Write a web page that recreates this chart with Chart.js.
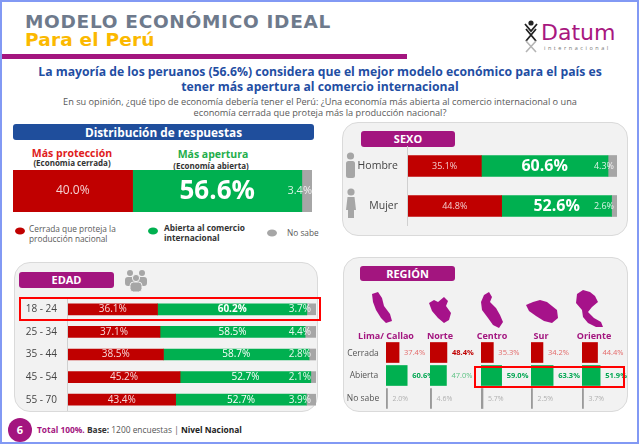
<!DOCTYPE html>
<html><head><meta charset="utf-8">
<script src="https://cdn.jsdelivr.net/npm/chart.js@4.4.1/dist/chart.umd.min.js"></script>
<style>
html,body{margin:0;padding:0;background:#fff;}
body{width:640px;height:444px;position:relative;overflow:hidden;font-family:"Open Sans",sans-serif;}
.a{position:absolute;}
.frame{left:0;top:0;width:639px;height:444px;box-sizing:border-box;border:2px solid #8299f4;pointer-events:none;}
.panel{background:#f2f2f2;border:1px solid #dadada;border-radius:16px;box-sizing:border-box;}
.hdr{color:#fff;font-weight:bold;text-align:center;border-radius:3px;}
.purple{background:#a3157f;}
canvas{position:absolute;}
.rn{color:#a3157f;font-weight:bold;font-size:9px;width:70px;text-align:center;line-height:12px;white-space:nowrap;}
.rl{color:#555;font-size:8.5px;width:40px;text-align:center;line-height:12px;}
.ctr{text-align:center;white-space:nowrap;}
</style>
</head><body>
<!-- header -->
<div class="a" style="left:25px;top:11px;font-family:'DejaVu Sans';font-weight:bold;font-size:18.5px;letter-spacing:0.7px;color:#6e7a8c;line-height:22px;white-space:nowrap;">MODELO ECONÓMICO IDEAL</div>
<div class="a" style="left:25px;top:29px;font-family:'DejaVu Sans';font-weight:bold;font-size:18.5px;letter-spacing:0.2px;color:#fbb900;line-height:22px;white-space:nowrap;">Para el Perú</div>
<div class="a" style="left:0;top:54px;width:407px;height:5px;background:#a3157f;"></div>
<svg class="a" style="left:520px;top:18px" width="20" height="40" viewBox="520 18 20 40">
  <circle cx="531" cy="23" r="2.6" fill="#222"/>
  <path d="M525 24 L531 31 L537 24" stroke="#222" stroke-width="1.8" fill="none"/>
  <path d="M526 29 L536 41 M536 29 L526 41" stroke="#222" stroke-width="1.8" fill="none"/>
  <path d="M526 41 L536 52 M536 41 L526 52" stroke="#b5b5b5" stroke-width="1.6" fill="none"/>
</svg>
<div class="a" style="left:541px;top:19px;font-family:'DejaVu Sans';font-size:22px;color:#a8177f;line-height:28px;">Datum</div>
<div class="a" style="left:544px;top:44px;font-size:5.5px;letter-spacing:2.55px;color:#777;line-height:8px;">internacional</div>

<div class="a" style="left:0;top:65px;width:640px;text-align:center;color:#1f4ea3;font-weight:bold;font-size:12.2px;line-height:14.5px;">La mayoría de los peruanos (56.6%) considera que el mejor modelo económico para el país es<br>tener más apertura al comercio internacional</div>
<div class="a" style="left:0;top:96px;width:640px;text-align:center;color:#595959;font-size:9.2px;line-height:11px;">En su opinión, ¿qué tipo de economía debería tener el Perú: ¿Una economía más abierta al comercio internacional o una<br>economía cerrada que proteja más la producción nacional?</div>

<!-- distribution -->
<div class="a hdr" style="left:13px;top:124px;width:301px;height:16px;line-height:16px;font-size:11.8px;background:#1f4e9c;">Distribución de respuestas</div>
<div class="a ctr" style="left:12px;top:147px;width:120px;line-height:12px;color:#e0201b;font-weight:bold;font-size:10.5px;">Más protección</div>
<div class="a ctr" style="left:12px;top:158px;width:120px;line-height:10px;color:#333;font-weight:bold;font-size:8px;">(Economia cerrada)</div>
<div class="a ctr" style="left:153px;top:148px;width:120px;line-height:12px;color:#1fae4c;font-weight:bold;font-size:10.5px;">Más apertura</div>
<div class="a ctr" style="left:151px;top:161px;width:120px;line-height:10px;color:#333;font-weight:bold;font-size:8px;">(Economía abierta)</div>
<canvas id="cDist" width="299" height="42" style="left:13px;top:170px;"></canvas>
<svg class="a" style="left:0;top:220px" width="320" height="30">
  <ellipse cx="20" cy="11" rx="5" ry="3.5" fill="#c00000"/>
  <ellipse cx="153" cy="11" rx="5" ry="3.5" fill="#00b050"/>
  <ellipse cx="272" cy="13" rx="5" ry="3.5" fill="#a6a6a6"/>
</svg>
<div class="a" style="left:29px;top:224px;font-size:8.3px;color:#595959;line-height:10px;">Cerrada que proteja la<br>producción nacional</div>
<div class="a" style="left:164px;top:223px;font-size:8.3px;color:#333;font-weight:bold;line-height:10px;">Abierta al comercio<br>internacional</div>
<div class="a" style="left:287px;top:228px;font-size:8.3px;color:#595959;line-height:10px;">No sabe</div>

<!-- SEXO -->
<div class="a panel" style="left:342px;top:122px;width:286px;height:114px;"></div>
<div class="a hdr purple" style="left:361px;top:131px;width:94px;height:16px;line-height:16px;font-size:11px;">SEXO</div>
<svg class="a" style="left:340px;top:148px" width="22" height="75" viewBox="340 148 22 75">
  <circle cx="350.5" cy="156" r="3.6" fill="#a6a6a6"/>
  <rect x="346" y="161" width="9" height="17" rx="2.5" fill="#a6a6a6"/>
  <circle cx="351" cy="192" r="3.6" fill="#a6a6a6"/>
  <path d="M347.5 197 L354.5 197 L356 210 L354 210 L354 218 L348 218 L348 210 L346 210 Z" fill="#a6a6a6"/>
</svg>
<canvas id="cSexo" width="275" height="80" style="left:342px;top:146px;"></canvas>

<!-- EDAD -->
<div class="a panel" style="left:14px;top:262px;width:304px;height:150px;"></div>
<div class="a hdr purple" style="left:19px;top:272px;width:95px;height:16px;line-height:16px;font-size:11px;">EDAD</div>
<svg class="a" style="left:122px;top:266px" width="28" height="28" viewBox="122 266 28 28">
  <circle cx="130" cy="273" r="3" fill="#a6a6a6"/>
  <circle cx="142" cy="273" r="3" fill="#a6a6a6"/>
  <rect x="125" y="277" width="10" height="9" rx="3" fill="#a6a6a6"/>
  <rect x="137" y="277" width="10" height="9" rx="3" fill="#a6a6a6"/>
  <circle cx="136" cy="278" r="3.6" fill="#a6a6a6" stroke="#f2f2f2" stroke-width="1"/>
  <rect x="130" y="282" width="12" height="10" rx="3.5" fill="#a6a6a6" stroke="#f2f2f2" stroke-width="1"/>
</svg>
<canvas id="cEdad" width="297" height="113" style="left:19px;top:298px;"></canvas>
<div class="a" style="left:19px;top:297px;width:302px;height:24px;box-sizing:border-box;border:2px solid #f00;"></div>

<!-- REGION -->
<div class="a panel" style="left:343px;top:257px;width:285px;height:155px;"></div>
<div class="a hdr purple" style="left:360px;top:266px;width:95px;height:15px;line-height:15px;font-size:11px;">REGIÓN</div>
<svg class="a" style="left:343px;top:285px" width="285" height="48" viewBox="343 285 285 48">
  <g fill="#a6128a">
  <polygon points="372,294 378,292 382,298 384,306 390,314 392,321 386,323 381,318 376,310 373,302"/>
  <polygon points="429,303 434,300 438,302 444,297 448,301 446,306 451,313 449,320 444,323 438,318 432,311"/>
  <polygon points="484,295 489,292 492,297 490,302 496,308 500,315 503,322 499,328 493,325 488,318 482,310 481,302"/>
  <polygon points="526,305 533,302 540,300 547,302 552,306 557,310 558,318 552,323 544,321 536,316 529,311"/>
  <polygon points="577,294 583,290 590,292 595,296 598,302 592,307 588,312 594,318 601,322 603,327 596,327 588,323 583,317 582,310 576,303"/>
  </g>
</svg>
<div id="regNames"></div>
<div class="a rl" style="left:343px;top:347px;">Cerrada</div>
<div class="a rl" style="left:344px;top:369px;">Abierta</div>
<div class="a rl" style="left:343px;top:392px;">No sabe</div>
<div id="regCanv"></div>
<div class="a" style="left:474px;top:366px;width:151px;height:22px;box-sizing:border-box;border:2px solid #f00;"></div>

<!-- footer -->
<div class="a" style="left:8px;top:418px;width:24px;height:24px;border-radius:50%;background:#a3157f;color:#fff;font-weight:bold;font-size:11px;line-height:24px;text-align:center;">6</div>
<div class="a" style="left:37px;top:424px;font-size:8.4px;color:#555;line-height:12px;white-space:nowrap;"><b style="color:#a3157f">Total 100%.</b> <b style="color:#333">Base:</b> 1200 encuestas | <b style="color:#222">Nivel Nacional</b></div>

<div class="a frame"></div>

<script>
// ---------- DATA ----------
const answerCats = ['Cerrada que proteja la producción nacional', 'Abierta al comercio internacional', 'No sabe'];
const totalCerrada = [40.0];
const totalAbierta = [56.6];
const totalNoSabe = [3.4];

const sexoCats = ['Hombre', 'Mujer'];
const sexoCerrada = [35.1, 44.8];
const sexoAbierta = [60.6, 52.6];
const sexoNoSabe = [4.3, 2.6];

const edadCats = ['18 - 24', '25 - 34', '35 - 44', '45 - 54', '55 - 70'];
const edadCerrada = [36.1, 37.1, 38.5, 45.2, 43.4];
const edadAbierta = [60.2, 58.5, 58.7, 52.7, 52.7];
const edadNoSabe = [3.7, 4.4, 2.8, 2.1, 3.9];

const regionCats = ['Lima/ Callao', 'Norte', 'Centro', 'Sur', 'Oriente'];
const regionRows = ['Cerrada', 'Abierta', 'No sabe'];
const regionCerrada = [37.4, 48.4, 35.3, 34.2, 44.4];
const regionAbierta = [60.6, 47.0, 59.0, 63.3, 51.9];
const regionNoSabe = [2.0, 4.6, 5.7, 2.5, 3.7];

// ---------- STYLE ----------
const RED = '#c00000', GREEN = '#00b050', GRAY = '#a6a6a6';
Chart.defaults.font.family = "'Open Sans', sans-serif";
Chart.defaults.animation = false;

const labelStyles = new WeakMap();
const axisStyles = new WeakMap();

// value labels on the bar segments
const segLabels = {
  id: 'segLabels',
  afterDatasetsDraw(chart) {
    const style = labelStyles.get(chart.canvas);
    if (!style) return;
    const ctx = chart.ctx;
    chart.data.datasets.forEach((ds, di) => {
      const meta = chart.getDatasetMeta(di);
      meta.data.forEach((el, i) => {
        const st = style(di, i, ds.data[i]);
        if (!st) return;
        ctx.save();
        ctx.font = st.font;
        ctx.fillStyle = st.color;
        ctx.textBaseline = 'middle';
        let x;
        if (st.pos === 'center') { ctx.textAlign = 'center'; x = (el.x + el.base) / 2; }
        else if (st.pos === 'endIn') { ctx.textAlign = 'right'; x = el.x + (st.dx || 0); }
        else { ctx.textAlign = 'left'; x = el.x + (st.dx || 0); }
        ctx.fillText(ds.data[i].toFixed(1) + '%', x, el.y + (st.dy || 0));
        ctx.restore();
      });
    });
  }
};

// category labels + axis line, placed by the chart's own y scale
const catAxis = {
  id: 'catAxis',
  afterDraw(chart) {
    const st = axisStyles.get(chart.canvas);
    if (!st) return;
    const ctx = chart.ctx, area = chart.chartArea, ys = chart.scales.y;
    ctx.save();
    ctx.strokeStyle = '#d0d0d0'; ctx.lineWidth = 1;
    ctx.beginPath(); ctx.moveTo(area.left - 0.5, area.top); ctx.lineTo(area.left - 0.5, area.bottom); ctx.stroke();
    ctx.font = st.font; ctx.fillStyle = '#444'; ctx.textAlign = 'right'; ctx.textBaseline = 'middle';
    chart.data.labels.forEach((lab, i) => ctx.fillText(lab, area.left - st.pad, ys.getPixelForValue(i)));
    ctx.restore();
  }
};

function stacked(id, labels, c, a, n, opt) {
  const cv = document.getElementById(id);
  labelStyles.set(cv, opt.style);
  if (opt.axisW) axisStyles.set(cv, { font: opt.tickFont, pad: opt.tickPad });
  return new Chart(cv, {
    type: 'bar',
    plugins: [segLabels, catAxis],
    data: {
      labels: labels,
      datasets: [
        { label: answerCats[0], data: c, backgroundColor: RED },
        { label: answerCats[1], data: a, backgroundColor: GREEN },
        { label: answerCats[2], data: n, backgroundColor: GRAY }
      ]
    },
    options: {
      indexAxis: 'y', responsive: false, maintainAspectRatio: false,
      layout: { padding: { left: opt.axisW || 0, right: 0, top: 0, bottom: 0 } },
      datasets: { bar: { barThickness: opt.thick, borderWidth: 0 } },
      scales: {
        x: { stacked: true, min: 0, max: 100, display: false },
        y: { stacked: true, display: false }
      },
      plugins: { legend: { display: false }, tooltip: { enabled: false } }
    }
  });
}

// Distribution
stacked('cDist', [''], totalCerrada, totalAbierta, totalNoSabe, {
  thick: 42,
  style: (di) => di === 0 ? { pos: 'center', font: '12px "Open Sans"', color: 'rgba(255,255,255,0.82)' }
    : di === 1 ? { pos: 'center', font: 'bold 26px "Open Sans"', color: '#fff', dy: 1 }
    : { pos: 'endIn', dx: 0, font: '11px "Open Sans"', color: 'rgba(255,255,255,0.85)' }
});

// Sexo
stacked('cSexo', sexoCats, sexoCerrada, sexoAbierta, sexoNoSabe, {
  thick: 21, axisW: 66, tickFont: '10.5px "Open Sans"', tickPad: 10,
  style: (di) => di === 0 ? { pos: 'center', font: '9px "Open Sans"', color: 'rgba(255,255,255,0.8)' }
    : di === 1 ? { pos: 'center', font: 'bold 16px "Open Sans"', color: '#fff' }
    : { pos: 'endIn', dx: -3, font: '9px "Open Sans"', color: 'rgba(255,255,255,0.85)' }
});

// Edad
stacked('cEdad', edadCats, edadCerrada, edadAbierta, edadNoSabe, {
  thick: 11, axisW: 49, tickFont: '10px "Open Sans"', tickPad: 11,
  style: (di, i) => di === 0 ? { pos: 'center', font: '10px "Open Sans"', color: 'rgba(255,255,255,0.85)' }
    : di === 1 ? { pos: 'center', font: (i === 0 ? 'bold ' : '') + '10px "Open Sans"', color: '#fff' }
    : { pos: 'endIn', dx: -5, font: '10px "Open Sans"', color: 'rgba(255,255,255,0.9)' }
});

// Region (layout positions kept separate from the data)
const regStartX = [386, 430, 481, 531, 582];
const regNameX = [386, 440, 492, 541, 594];
const namesEl = document.getElementById('regNames');
const canvEl = document.getElementById('regCanv');
regionCats.forEach((name, r) => {
  const d = document.createElement('div');
  d.className = 'a rn';
  d.style.left = (regNameX[r] - 35) + 'px';
  d.style.top = '330px';
  d.textContent = name;
  namesEl.appendChild(d);
  const cv = document.createElement('canvas');
  cv.width = 50; cv.height = 69;
  cv.style.left = regStartX[r] + 'px'; cv.style.top = '341px';
  canvEl.appendChild(cv);
  const vals = [regionCerrada[r], regionAbierta[r], regionNoSabe[r]];
  const winner = regionCerrada[r] > regionAbierta[r] ? 0 : 1;
  labelStyles.set(cv, (di, i) => {
    if (i === 2) return { pos: 'right', dx: 5, font: '7px "Open Sans"', color: '#b0b0b0' };
    const bold = i === winner;
    const col = i === 0 ? (bold ? '#c00000' : '#e46a6a') : (bold ? '#00a651' : '#5cc283');
    return { pos: 'right', dx: 5, font: (bold ? 'bold ' : '') + '7.5px "Open Sans"', color: col };
  });
  new Chart(cv, {
    type: 'bar',
    plugins: [segLabels],
    data: { labels: regionRows, datasets: [{ label: name, data: vals, backgroundColor: [RED, GREEN, '#9a9a9a'] }] },
    options: {
      indexAxis: 'y', responsive: false, maintainAspectRatio: false,
      layout: { padding: 0 },
      datasets: { bar: { barThickness: 20, minBarLength: 1.5, borderWidth: 0 } },
      scales: { x: { min: 0, max: 143, display: false }, y: { display: false } },
      plugins: { legend: { display: false }, tooltip: { enabled: false } }
    }
  });
});
</script>
</body></html>
